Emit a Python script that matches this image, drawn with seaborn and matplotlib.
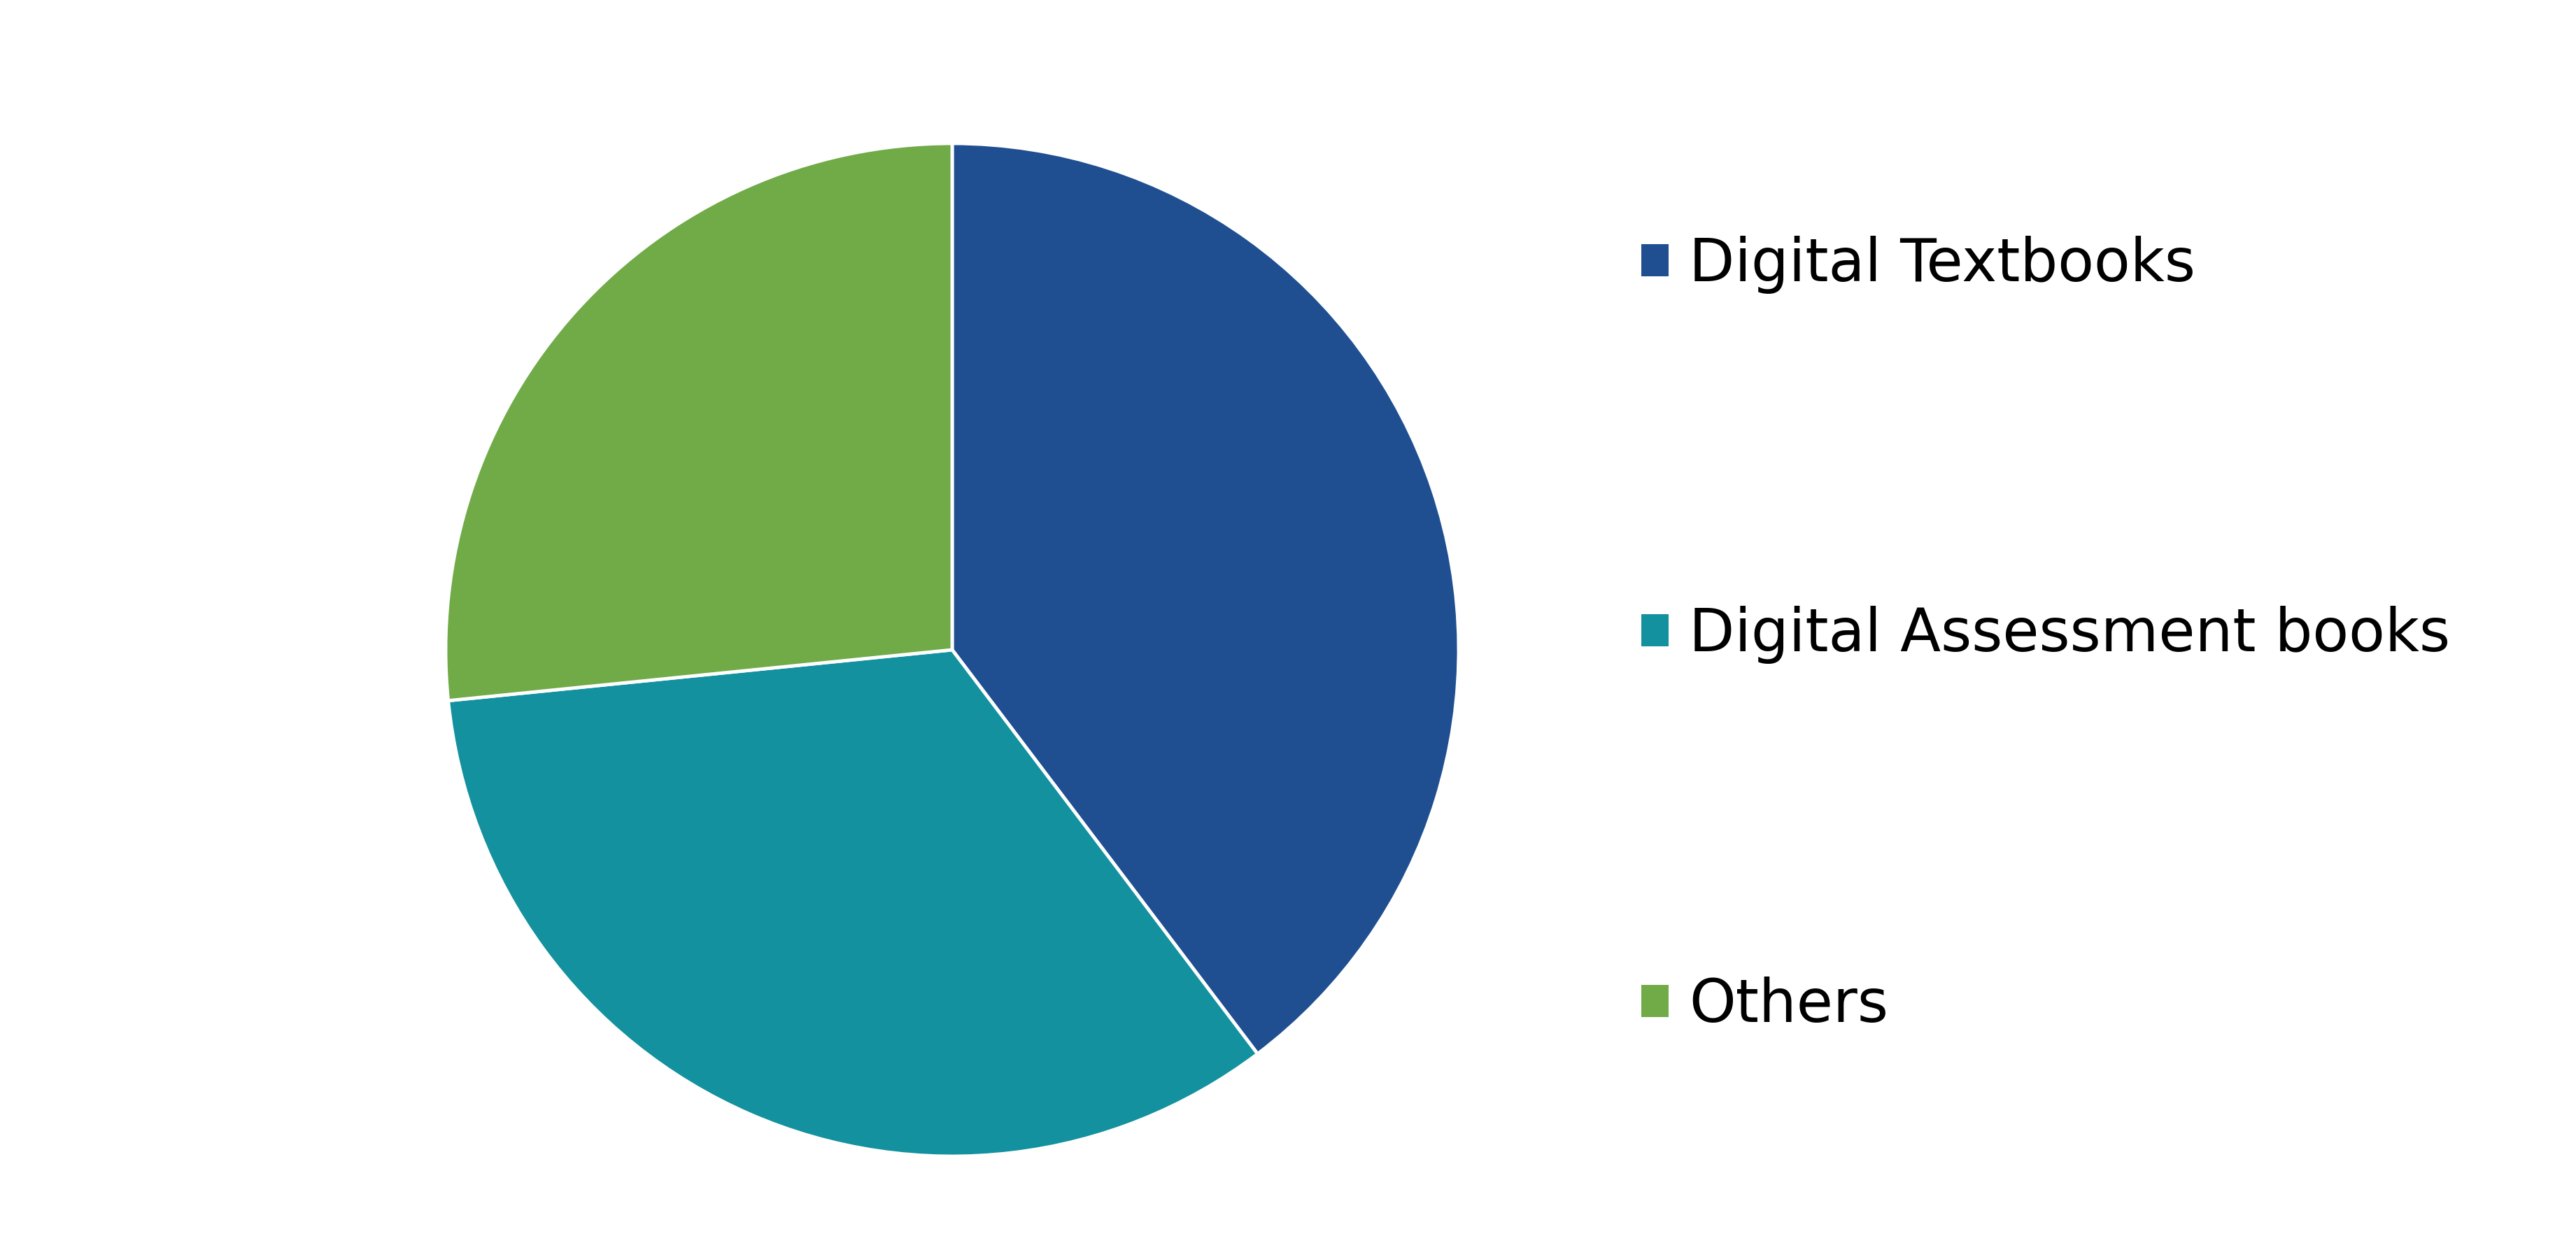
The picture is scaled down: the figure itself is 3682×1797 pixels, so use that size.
import matplotlib
matplotlib.use("Agg")
import matplotlib.pyplot as plt
from matplotlib.patches import Patch
import seaborn as sns

# Market share data
segments = ["Digital Textbooks", "Digital Assessment books", "Others"]
shares = [39.7, 33.7, 26.6]
seg_colors = ["#1F4F91", "#13919E", "#70AB47"]

sns.set_theme(style="white")
plt.rcParams["font.family"] = ["DejaVu Sans"]
palette = sns.color_palette(seg_colors)

W, H = 3682, 1797
fig = plt.figure(figsize=(W / 100, H / 100), dpi=100)

# pie axes: centre ~ (1361, 929) px, radius ~ 724 px
cx, cy, r = 1361, 929, 724
ax = fig.add_axes([(cx - r) / W, (H - cy - r) / H, 2 * r / W, 2 * r / H])
ax.pie(shares, colors=palette, startangle=90, counterclock=False,
       wedgeprops=dict(edgecolor="white", linewidth=3.5))
ax.set_xlim(-1, 1)
ax.set_ylim(-1, 1)
ax.set_aspect("equal")
ax.axis("off")

# legend
handles = [Patch(facecolor=c, edgecolor="none") for c in palette]
leg = fig.legend(handles, segments, loc="upper left",
                 bbox_to_anchor=(2346 / W, 1 - 337 / H),
                 frameon=False, fontsize=61,
                 handlelength=0.46, handleheight=0.46, handletextpad=0.34,
                 labelspacing=5.27, borderpad=0, borderaxespad=0)
for t in leg.get_texts():
    t.set_color("black")

plt.savefig("out.png", dpi=100, facecolor="white")
